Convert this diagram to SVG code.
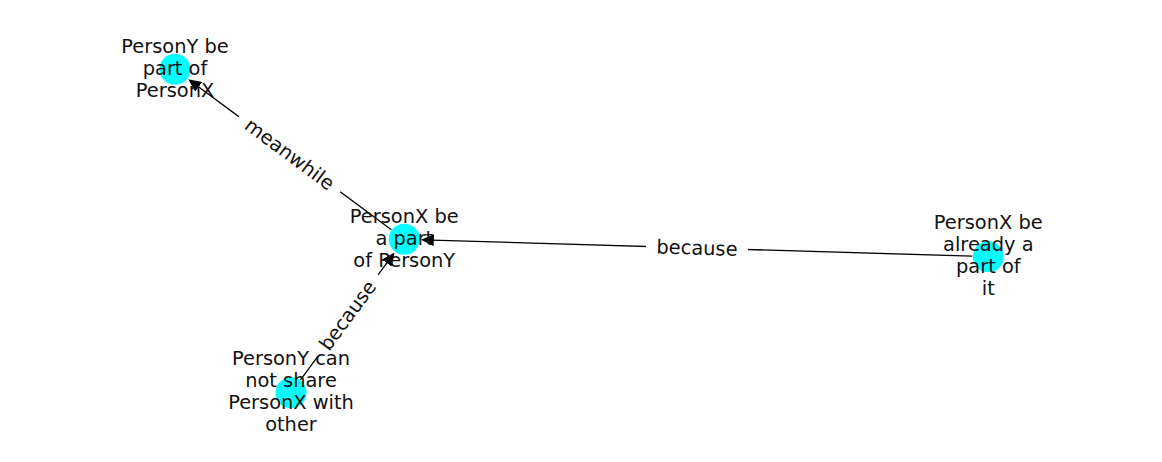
<svg xmlns="http://www.w3.org/2000/svg" width="1162" height="462" viewBox="0 0 1162 462">
<style>
.node{fill:#00ffff;}
.edge{stroke:#000;stroke-width:1.3;fill:none;}
text{font-family:"DejaVu Sans","Liberation Sans",sans-serif;font-size:19.4px;fill:#111;text-anchor:middle;}
.lblbox{fill:#fff;stroke:none;}
</style>
<defs>
<marker id="arr" viewBox="0 0 13 12" refX="2" refY="6" markerWidth="13" markerHeight="12" markerUnits="userSpaceOnUse" orient="auto">
<path d="M0,0 L13,6 L0,12 z" fill="#000"/>
</marker>
</defs>
<rect width="1162" height="462" fill="#fff"/>
<g id="node-circles">
<circle id="c-A" class="node" cx="175" cy="69.3" r="15.5"/>
<circle id="c-B" class="node" cx="404.3" cy="239.3" r="15.5"/>
<circle id="c-C" class="node" cx="291" cy="392.7" r="15.5"/>
<circle id="c-D" class="node" cx="988.3" cy="256.7" r="15.5"/>
</g>
<g id="connectors">
<path class="edge" d="M391.4,229.8 L197.1,85.7" marker-end="url(#arr)"/>
<path class="edge" d="M972.3,256.2 L431.8,240.1" marker-end="url(#arr)"/>
<path class="edge" d="M300.5,379.8 L388.0,261.4" marker-end="url(#arr)"/>
<g transform="translate(289.65,154.3) rotate(36.6)">
<rect class="lblbox" x="-63" y="-20" width="126" height="40" rx="6"/>
<text x="0" y="6.6">meanwhile</text>
</g>
<g transform="translate(697,248) rotate(1.7)">
<rect class="lblbox" x="-51" y="-20" width="102" height="40" rx="6"/>
<text x="0" y="6.6">because</text>
</g>
<g transform="translate(347.65,315.5) rotate(-53.6)">
<rect class="lblbox" x="-51" y="-20" width="102" height="40" rx="6"/>
<text x="0" y="6.6">because</text>
</g>
</g>
<g id="node-A">
<text x="175" y="53">PersonY be</text>
<text x="175" y="75">part of</text>
<text x="175" y="97">PersonX</text>
</g>
<g id="node-B">
<text x="404.3" y="223">PersonX be</text>
<text x="404.3" y="245">a part</text>
<text x="404.3" y="267">of PersonY</text>
</g>
<g id="node-C">
<text x="291" y="365">PersonY can</text>
<text x="291" y="387">not share</text>
<text x="291" y="409">PersonX with</text>
<text x="291" y="431">other</text>
</g>
<g id="node-D">
<text x="988.3" y="229">PersonX be</text>
<text x="988.3" y="251">already a</text>
<text x="988.3" y="273">part of</text>
<text x="988.3" y="295">it</text>
</g>
</svg>
